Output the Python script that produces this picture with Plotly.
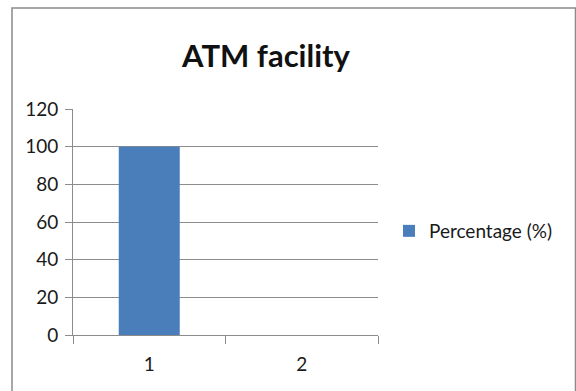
import plotly.graph_objects as go

# Chart data
categories = ["1", "2"]
percentage = [100, 0]
series_name = "Percentage (%)"
chart_title = "ATM facility"
y_ticks = [0, 20, 40, 60, 80, 100, 120]

W, H = 576, 391
L, R, T, B = 73, 198, 109, 56
plot_w = W - L - R
plot_h = H - T - B

def px_x(px):
    return (px - L) / plot_w

def px_y(py):
    return (H - B - py) / plot_h

FONT = "Lato, 'Open Sans', sans-serif"
GRID = "#8c8c8c"

fig = go.Figure()
fig.add_trace(go.Bar(
    x=categories,
    y=percentage,
    name=series_name,
    marker=dict(color="#4a7ebb", line=dict(width=0)),
    width=0.4,
    showlegend=True,
))

fig.update_layout(
    width=W, height=H,
    margin=dict(l=L, r=R, t=T, b=B),
    paper_bgcolor="white",
    plot_bgcolor="white",
    font=dict(family=FONT, color="#1a1a1a", size=19),
    title=dict(
        text="<b>" + chart_title + "</b>",
        x=266 / W, xanchor="center",
        y=1 - 56 / H, yanchor="middle",
        font=dict(family=FONT, size=31, color="#111111"),
    ),
    showlegend=True,
    legend=dict(
        x=px_x(389), xanchor="left",
        y=px_y(231), yanchor="middle",
        font=dict(family=FONT, size=19, color="#1a1a1a"),
        bgcolor="rgba(0,0,0,0)",
        itemwidth=30,
    ),
    xaxis=dict(
        type="category",
        tickson="boundaries",
        ticks="outside", ticklen=8, tickcolor=GRID,
        showline=True, linecolor=GRID, linewidth=1,
        showgrid=False,
        tickfont=dict(family=FONT, size=19),
        ticklabelstandoff=12,
        range=[-0.5, 1.5],
    ),
    yaxis=dict(
        range=[0, 120],
        tickvals=y_ticks,
        ticks="outside", ticklen=7, tickcolor=GRID,
        showline=True, linecolor=GRID, linewidth=1,
        showgrid=True, gridcolor=GRID, gridwidth=1,
        zeroline=False,
        tickfont=dict(family=FONT, size=19),
        ticklabelstandoff=3,
    ),
    shapes=[dict(
        type="rect", xref="paper", yref="paper",
        x0=px_x(12), x1=px_x(575.5), y0=px_y(400), y1=px_y(8),
        line=dict(color="#8a8a8a", width=1.5),
        fillcolor="rgba(0,0,0,0)", layer="below",
    )],
)

fig.write_html("out.html")
